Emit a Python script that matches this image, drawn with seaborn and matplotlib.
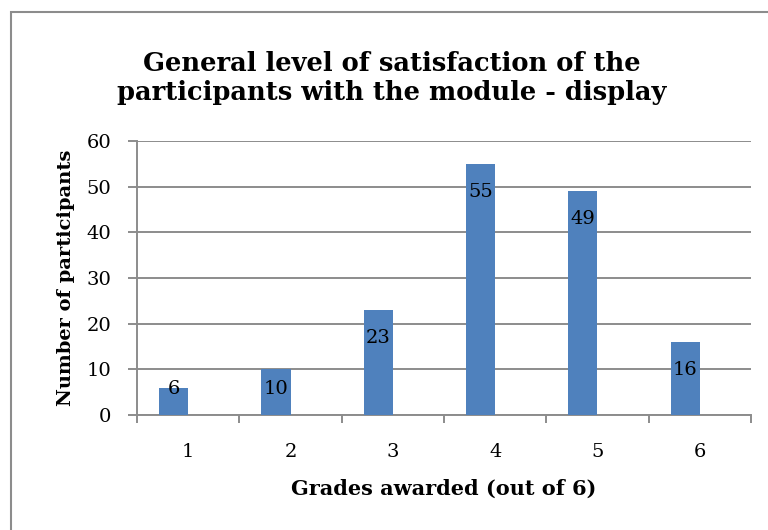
import matplotlib
matplotlib.use("Agg")
import matplotlib.pyplot as plt
import seaborn as sns
import pandas as pd
import numpy as np
from matplotlib.patches import Rectangle

grades = ["1", "2", "3", "4", "5", "6"]
counts = [6, 10, 23, 55, 49, 16]
title = "General level of satisfaction of the\nparticipants with the module - display"
xlabel = "Grades awarded (out of 6)"
ylabel = "Number of participants"

sns.set_theme(style="white")
plt.rcParams['font.family'] = ['DejaVu Serif']
plt.rcParams['text.color'] = 'black'
plt.rcParams['axes.labelcolor'] = 'black'
plt.rcParams['xtick.color'] = 'black'
plt.rcParams['ytick.color'] = 'black'

df = pd.DataFrame({"grade": grades * 2,
                   "count": counts + [0] * len(counts),
                   "series": ["a"] * len(grades) + ["b"] * len(grades)})

fig = plt.figure(figsize=(7.68, 5.30), dpi=100)
ax = fig.add_axes([137/768, 1-415/530, (751-137)/768, (415-141)/530])

sns.barplot(data=df, x="grade", y="count", hue="series", hue_order=["a", "b"],
            palette=["#4F81BD", "#4F81BD"], width=0.57, dodge=True,
            legend=False, ax=ax, saturation=1, linewidth=0, zorder=3)

ax.set_ylim(0, 60)
ax.set_xlim(-0.5, len(grades) - 0.5)
ax.set_yticks(range(0, 61, 10))
ax.yaxis.grid(True, color="#8c8c8c", linewidth=1.4, zorder=0)
ax.set_axisbelow(True)

for s in ["top", "right"]:
    ax.spines[s].set_visible(False)
for s in ["left", "bottom"]:
    ax.spines[s].set_color("#8c8c8c")
    ax.spines[s].set_linewidth(1.4)

ax.tick_params(axis="y", which="major", left=True, length=6.5, width=1.4,
               color="#8c8c8c", labelcolor="black", labelsize=14, pad=12)
ax.set_xticks(range(len(grades)))
ax.set_xticklabels(grades)
ax.set_xticks(np.arange(-0.5, len(grades), 1.0), minor=True)
ax.tick_params(axis="x", which="major", bottom=False, labelsize=14, pad=14,
               labelcolor="black")
ax.tick_params(axis="x", which="minor", bottom=True, length=6, width=1.4,
               color="#8c8c8c")

ax.set_xlabel(xlabel, fontsize=15, fontweight="bold", labelpad=13)
ax.set_ylabel(ylabel, fontsize=14, fontweight="bold", labelpad=8)

# data labels inside end of first-series bars
bars = ax.patches[:len(grades)]
for bar, v in zip(bars, counts):
    cx = bar.get_x() + bar.get_width() / 2
    ax.annotate(str(v), xy=(cx, max(v, 11.8)), xytext=(0, -20),
                textcoords="offset points", ha="center", va="center",
                fontsize=14, color="black", zorder=5)

fig.text(0.5 + 0.01, 1 - 78/530, title, ha="center", va="center",
         fontsize=18.5, fontweight="bold", linespacing=1.22)

fig.patches.append(Rectangle((11/768, -0.1), 2, 1.1 - 12/530,
                             transform=fig.transFigure, fill=False,
                             edgecolor="#8c8c8c", linewidth=1.5))

fig.savefig("out.png", dpi=100)
